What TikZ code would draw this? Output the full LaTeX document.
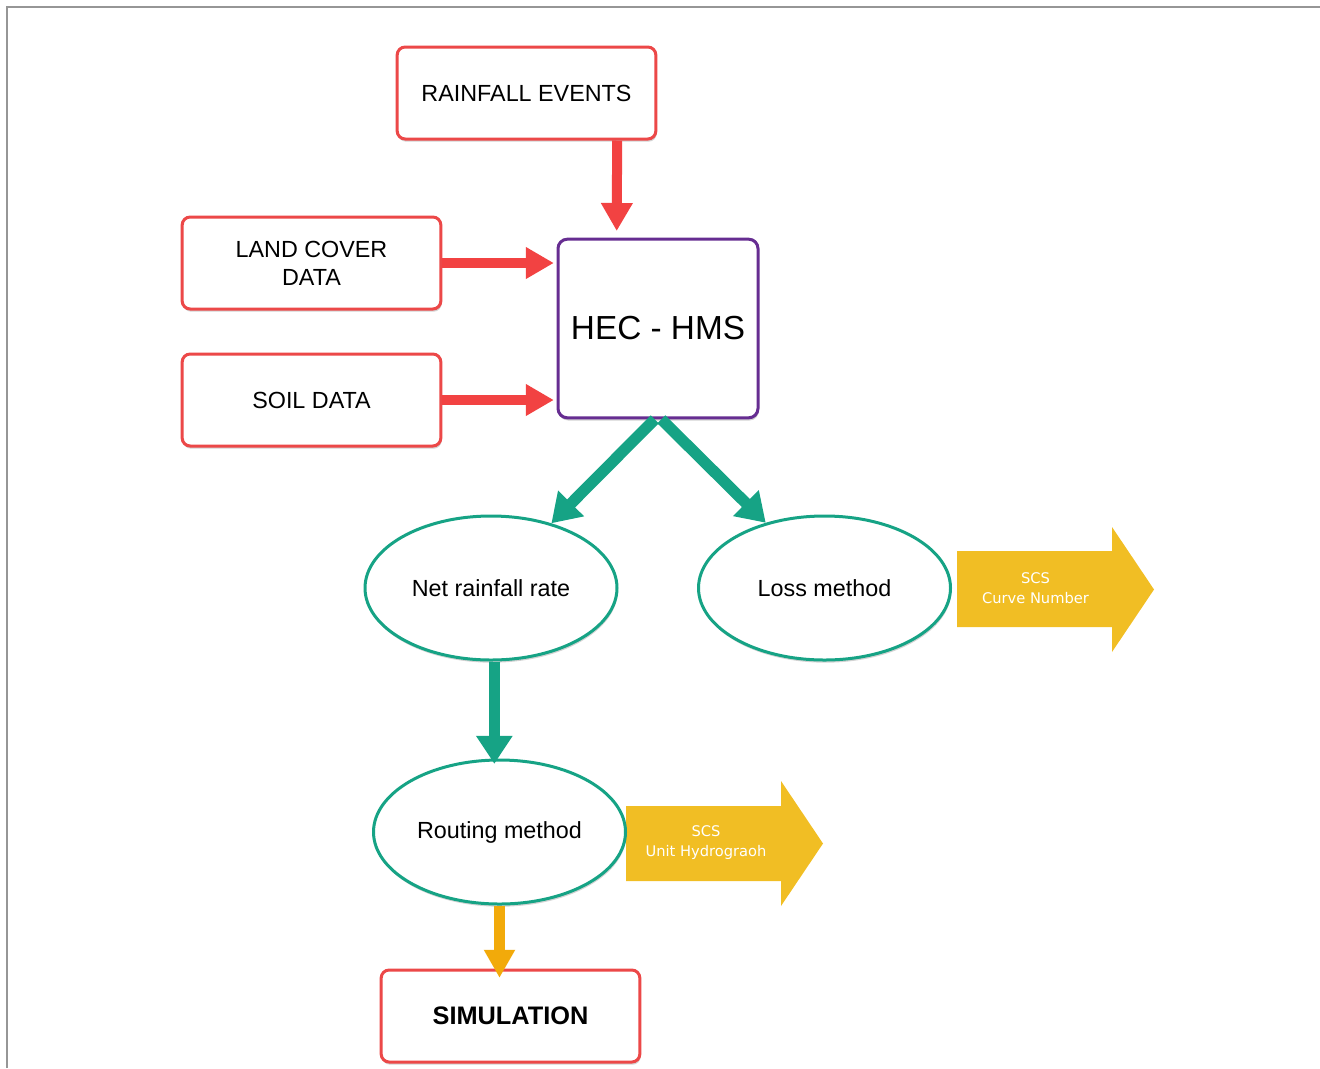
\documentclass[tikz,border=0pt]{standalone}
\usepackage{fontspec}
\setmainfont{Liberation Sans}
\newfontfamily\scsfont{DejaVu Sans}
\usetikzlibrary{arrows.meta,shapes.geometric,shadows}

\definecolor{boxred}{RGB}{236,72,72}
\definecolor{arrred}{RGB}{242,66,66}
\definecolor{hecpurple}{RGB}{102,45,145}
\definecolor{flowgreen}{RGB}{22,163,133}
\definecolor{scsyellow}{RGB}{241,190,36}
\definecolor{simorange}{RGB}{242,170,10}
\definecolor{framegray}{RGB}{150,150,150}

\tikzset{every picture/.style={line width=0.75pt}}
\tikzset{
  softshadow/.style={drop shadow={shadow xshift=0.6pt,shadow yshift=-2pt,opacity=0.35}},
  databox/.style={draw=boxred, line width=2.25pt, rounded corners=6pt, fill=white,
    minimum width=194pt, minimum height=69pt, inner sep=0pt, align=center,
    font=\fontsize{17.5}{21}\selectfont, softshadow},
  hecbox/.style={draw=hecpurple, line width=2.25pt, rounded corners=7pt, fill=white,
    minimum width=150pt, minimum height=134pt, inner sep=0pt,
    font=\fontsize{25}{30}\selectfont, softshadow},
  methodell/.style={ellipse, draw=flowgreen, line width=2.25pt, fill=white,
    minimum width=189pt, minimum height=108pt, inner sep=0pt,
    font=\fontsize{17.5}{21}\selectfont, softshadow},
  scsfill/.style={fill=scsyellow},
  scstext/.style={text=white, align=center, inner sep=0pt,
    font=\scsfont\fontsize{11}{15}\selectfont},
  redarrow/.style={draw=arrred, line width=7.5pt, -{Triangle[width=22.5pt,length=21pt]}},
  greenarrow/.style={draw=flowgreen, line width=8.5pt, -{Triangle[width=26pt,length=21pt]}},
  orangearrow/.style={draw=simorange, line width=8pt, -{Triangle[width=22pt,length=21pt]}}
}

\begin{document}
\begin{tikzpicture}[x=0.75pt,y=0.75pt,yscale=-1,xscale=1]
\useasboundingbox (0,0) rectangle (1320,1068);

%Frame lines
\draw [color=framegray, line width=1.2pt] (7,1068) -- (7,7) -- (1320,7) ;

%Shape: Right Arrow (curve number)
\fill [scsfill] (957,551) -- (1112,551) -- (1112,527) -- (1154,589.5) -- (1112,652) -- (1112,627) -- (957,627) -- cycle ;
%Shape: Right Arrow (unit hydrograph)
\fill [scsfill] (626,806) -- (781,806) -- (781,781) -- (823,843.5) -- (781,906) -- (781,881) -- (626,881) -- cycle ;

% Input boxes
\draw (526.5,93) node [databox] (rain) {RAINFALL EVENTS};
\draw (311.5,263) node [databox] (land) {LAND COVER\\DATA};
\draw (311.5,400) node [databox] (soil) {SOIL DATA};
% Model
\draw (658,328.5) node [hecbox] (hec) {HEC - HMS};
% Methods
\draw (491,588) node [methodell] (net) {Net rainfall rate};
\draw (824.5,588) node [methodell] (loss) {Loss method};
\draw (499.5,832) node [methodell] (route) {Routing method};
% Output
\draw (510.5,1016) node [databox, font=\bfseries\fontsize{19}{23}\selectfont] (sim) {SIMULATION};
% Text Node
\draw (1035.5,588.5) node [scstext] (cn) {SCS\\Curve Number};
% Text Node
\draw (706,843) node [scstext] (uh) {SCS\\Unit Hydrograoh};

%Straight Lines
\draw [redarrow, shorten >=5pt] ([xshift=68pt]rain.south) -- ([xshift=-31pt]hec.north) ;
\draw [redarrow, shorten >=2pt] (land.east) -- (land.east -| hec.west) ;
\draw [redarrow, shorten >=2pt] (soil.east) -- (soil.east -| hec.west) ;
\draw [greenarrow] ([xshift=-2.5pt]hec.south) -- (net.47) ;
\draw [greenarrow] ([xshift=2.5pt]hec.south) -- (loss.132) ;
\draw [greenarrow, shorten >=-4pt] ([xshift=2.5pt]net.south) -- ([xshift=2.5pt]net.south |- route.north) ;
\draw [orangearrow, shorten >=-7pt] (route.south) -- (route.south |- sim.north) ;

\end{tikzpicture}
\end{document}
